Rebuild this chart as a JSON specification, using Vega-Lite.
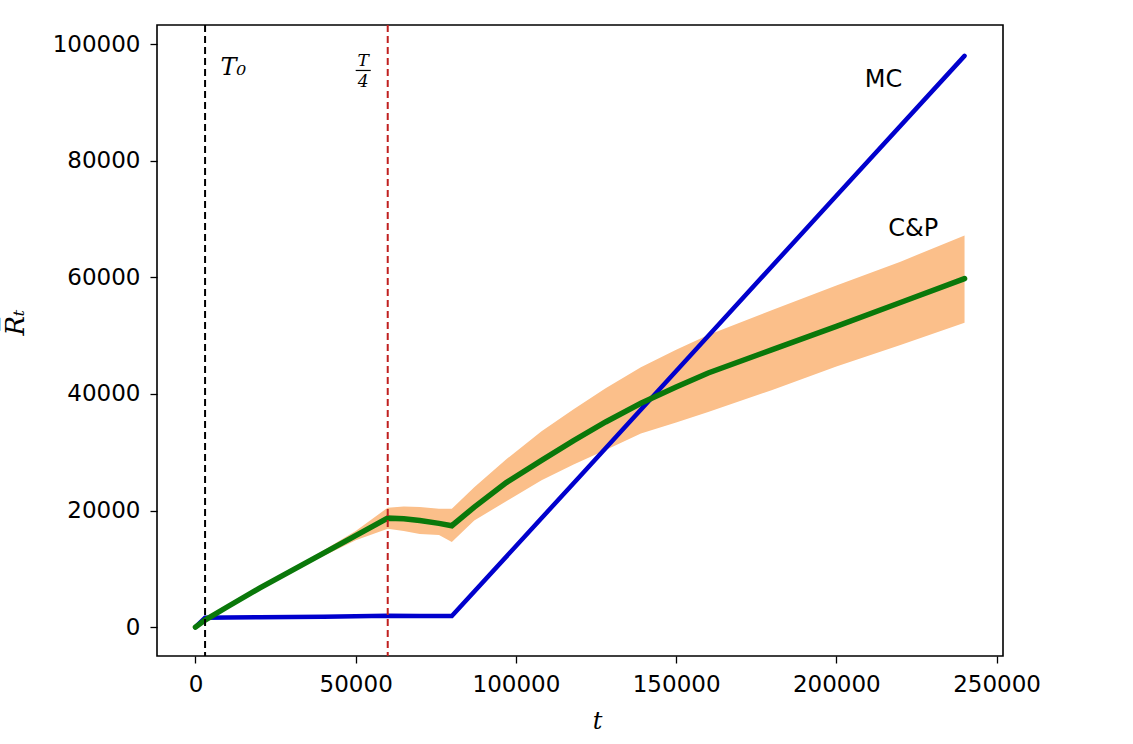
{
  "$schema": "https://vega.github.io/schema/vega-lite/v6.json",
  "width": 846,
  "height": 631,
  "autosize": {"type": "none"},
  "padding": {"left": 157, "top": 25, "right": 130, "bottom": 88},
  "background": "white",
  "config": {
    "view": {"stroke": "black", "strokeWidth": 1.6},
    "axis": {
      "labelFont": "DejaVu Sans",
      "labelFontSize": 23,
      "labelColor": "black",
      "tickColor": "black",
      "tickSize": 7,
      "tickWidth": 1.3,
      "domain": false,
      "grid": false,
      "labelPadding": 10
    }
  },
  "datasets": {
    "cp": [
      {"t": 0, "mean": 0, "lo": 0, "hi": 0},
      {"t": 3000, "mean": 1200, "lo": 1150, "hi": 1250},
      {"t": 10000, "mean": 3500, "lo": 3400, "hi": 3600},
      {"t": 20000, "mean": 6700, "lo": 6550, "hi": 6850},
      {"t": 30000, "mean": 9700, "lo": 9450, "hi": 9950},
      {"t": 40000, "mean": 12700, "lo": 12200, "hi": 13200},
      {"t": 50000, "mean": 15700, "lo": 14900, "hi": 16500},
      {"t": 60000, "mean": 18700, "lo": 16900, "hi": 20500},
      {"t": 65000, "mean": 18600, "lo": 16500, "hi": 20700},
      {"t": 70000, "mean": 18300, "lo": 16000, "hi": 20600},
      {"t": 76000, "mean": 17800, "lo": 15800, "hi": 20300},
      {"t": 80000, "mean": 17400, "lo": 14600, "hi": 20300},
      {"t": 87000, "mean": 20600, "lo": 18300, "hi": 24000},
      {"t": 97000, "mean": 24800, "lo": 21600, "hi": 28800},
      {"t": 108000, "mean": 28600, "lo": 25200, "hi": 33600},
      {"t": 118000, "mean": 32000, "lo": 27900, "hi": 37400},
      {"t": 128000, "mean": 35200, "lo": 30400, "hi": 41000},
      {"t": 139000, "mean": 38400, "lo": 33200, "hi": 44600},
      {"t": 150000, "mean": 41200, "lo": 35100, "hi": 47600},
      {"t": 160000, "mean": 43600, "lo": 36900, "hi": 50100},
      {"t": 180000, "mean": 47600, "lo": 40700, "hi": 54400},
      {"t": 200000, "mean": 51600, "lo": 44700, "hi": 58600},
      {"t": 220000, "mean": 55700, "lo": 48400, "hi": 62700},
      {"t": 240000, "mean": 59800, "lo": 52200, "hi": 67200}
    ],
    "mc": [
      {"t": 0, "r": 0},
      {"t": 3000, "r": 1600},
      {"t": 10000, "r": 1650},
      {"t": 20000, "r": 1700},
      {"t": 40000, "r": 1800},
      {"t": 60000, "r": 1950},
      {"t": 70000, "r": 1900},
      {"t": 80000, "r": 1900},
      {"t": 120000, "r": 25900},
      {"t": 160000, "r": 49950},
      {"t": 200000, "r": 74000},
      {"t": 240000, "r": 98000}
    ],
    "vlines": [
      {"t": 3000, "kind": "T0"},
      {"t": 60000, "kind": "T4"}
    ],
    "labels": [
      {"t": 214700, "r": 93800, "label": "MC"},
      {"t": 224000, "r": 68300, "label": "C&P"}
    ],
    "t0label": [
      {"t": 7800, "r": 95900, "label": "T₀"}
    ],
    "fraclabels": [
      {"t": 52300, "r": 97200, "label": "T"},
      {"t": 52300, "r": 93500, "label": "4"}
    ],
    "fracbar": [
      {"t": 50000, "t2": 54700, "r": 95500}
    ]
  },
  "layer": [
    {
      "data": {"name": "cp"},
      "mark": {"type": "area", "color": "#fbbf8a", "opacity": 1},
      "encoding": {
        "x": {
          "field": "t", "type": "quantitative",
          "scale": {"domain": [-12000, 252000], "nice": false, "zero": false},
          "axis": {
            "values": [0, 50000, 100000, 150000, 200000, 250000],
            "format": "d",
            "title": "t",
            "titleFont": "DejaVu Serif",
            "titleFontStyle": "italic",
            "titleFontWeight": "normal",
            "titleFontSize": 24,
            "titleColor": "black",
            "titleX": 440,
            "titleY": 72,
            "titleBaseline": "alphabetic"
          }
        },
        "y": {
          "field": "lo", "type": "quantitative",
          "scale": {"domain": [-4950, 103300], "nice": false, "zero": false},
          "axis": {
            "values": [0, 20000, 40000, 60000, 80000, 100000],
            "format": "d",
            "title": "R̅ₜ",
            "titleFont": "DejaVu Serif",
            "titleFontStyle": "italic",
            "titleFontWeight": "normal",
            "titleFontSize": 26,
            "titleColor": "black",
            "titleX": -142,
            "titleY": 297,
            "titleAlign": "center",
            "titleBaseline": "middle"
          }
        },
        "y2": {"field": "hi"}
      }
    },
    {
      "data": {"name": "mc"},
      "mark": {"type": "line", "color": "#0000cd", "strokeWidth": 4.5, "strokeCap": "round"},
      "encoding": {
        "x": {"field": "t", "type": "quantitative"},
        "y": {"field": "r", "type": "quantitative"}
      }
    },
    {
      "data": {"name": "cp"},
      "mark": {"type": "line", "color": "#0a780a", "strokeWidth": 5.5, "strokeCap": "round"},
      "encoding": {
        "x": {"field": "t", "type": "quantitative"},
        "y": {"field": "mean", "type": "quantitative"}
      }
    },
    {
      "data": {"name": "vlines"},
      "mark": {"type": "rule", "strokeDash": [7, 4], "strokeWidth": 2},
      "encoding": {
        "x": {"field": "t", "type": "quantitative"},
        "color": {
          "field": "kind", "type": "nominal",
          "scale": {"domain": ["T0", "T4"], "range": ["black", "#c0201f"]},
          "legend": null
        }
      }
    },
    {
      "data": {"name": "labels"},
      "mark": {"type": "text", "font": "DejaVu Sans", "fontSize": 24, "color": "black", "align": "center", "baseline": "middle"},
      "encoding": {
        "x": {"field": "t", "type": "quantitative"},
        "y": {"field": "r", "type": "quantitative"},
        "text": {"field": "label"}
      }
    },
    {
      "data": {"name": "t0label"},
      "mark": {"type": "text", "font": "DejaVu Serif", "fontStyle": "italic", "fontSize": 24, "color": "black", "align": "left", "baseline": "middle"},
      "encoding": {
        "x": {"field": "t", "type": "quantitative"},
        "y": {"field": "r", "type": "quantitative"},
        "text": {"field": "label"}
      }
    },
    {
      "data": {"name": "fraclabels"},
      "mark": {"type": "text", "font": "DejaVu Serif", "fontStyle": "italic", "fontSize": 17, "color": "black", "align": "center", "baseline": "middle"},
      "encoding": {
        "x": {"field": "t", "type": "quantitative"},
        "y": {"field": "r", "type": "quantitative"},
        "text": {"field": "label"}
      }
    },
    {
      "data": {"name": "fracbar"},
      "mark": {"type": "rule", "color": "black", "strokeWidth": 1.2},
      "encoding": {
        "x": {"field": "t", "type": "quantitative"},
        "x2": {"field": "t2"},
        "y": {"field": "r", "type": "quantitative"}
      }
    }
  ]
}
